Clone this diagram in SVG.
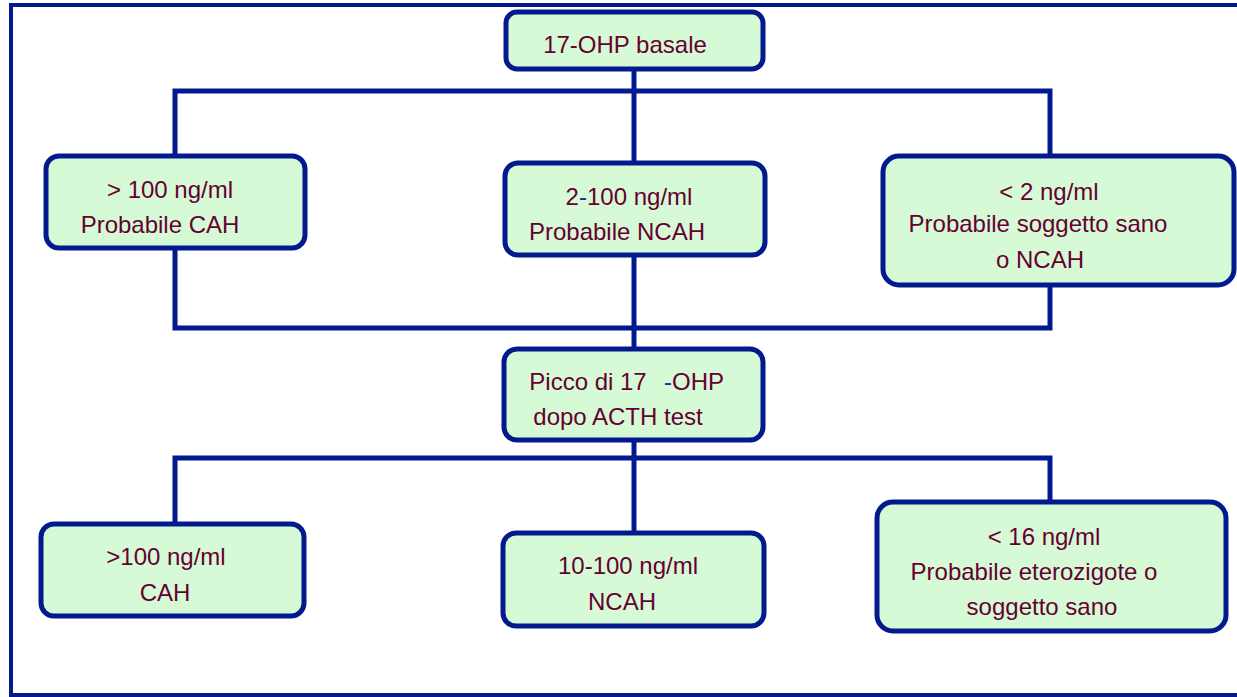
<svg xmlns="http://www.w3.org/2000/svg" width="1237" height="697" viewBox="0 0 1237 697">
<style>
.frame{fill:none;stroke:#021A8E;stroke-width:4}
.box{fill:#D5FAD5;stroke:#021A8E;stroke-width:5}
.ln{fill:none;stroke:#021A8E;stroke-width:5;stroke-linejoin:miter}
.t{font-family:"Liberation Sans",Arial,sans-serif;font-size:24px;fill:#660033;text-anchor:middle}
.b{fill:#1A2A9A}
</style>
<rect x="0" y="0" width="1237" height="697" fill="#FFFFFF"/>
<rect class="frame" x="11" y="5" width="1240" height="690"/>
<g id="connectors">
<path class="ln" d="M634 69V91M175 156V91H1050V156M634 91V163"/>
<path class="ln" d="M175 248V328H1050V285M634 255V349"/>
<path class="ln" d="M634 440V458M175 524V458H1050V502M634 458V533"/>
</g>
<g id="n1">
<rect class="box" x="506" y="12" width="257" height="57" rx="11"/>
<text class="t" x="625" y="53">17-OHP basale</text>
</g>
<g id="n2">
<rect class="box" x="46" y="156" width="259" height="92" rx="13"/>
<text class="t" x="170" y="198">&gt; 100 ng/ml</text>
<text class="t" x="160" y="233">Probabile CAH</text>
</g>
<g id="n3">
<rect class="box" x="505" y="163" width="260" height="92" rx="13"/>
<text class="t" x="629" y="205">2<tspan class="b">-</tspan>100 ng/ml</text>
<text class="t" x="617" y="240">Probabile NCAH</text>
</g>
<g id="n4">
<rect class="box" x="883" y="156" width="351" height="129" rx="16"/>
<text class="t" x="1049" y="200">&lt; 2 ng/ml</text>
<text class="t" x="1038" y="232">Probabile soggetto sano</text>
<text class="t" x="1040" y="268">o NCAH</text>
</g>
<g id="n5">
<rect class="box" x="504" y="349" width="259" height="91" rx="13"/>
<text class="t" x="588" y="390">Picco di 17</text>
<text class="t" x="694" y="390"><tspan class="b">-</tspan>OHP</text>
<text class="t" x="618" y="425">dopo ACTH test</text>
</g>
<g id="n6">
<rect class="box" x="41" y="524" width="263" height="92" rx="13"/>
<text class="t" x="166" y="565">&gt;100 ng/ml</text>
<text class="t" x="165" y="601">CAH</text>
</g>
<g id="n7">
<rect class="box" x="503" y="533" width="261" height="93" rx="13"/>
<text class="t" x="628" y="574">10-100 ng/ml</text>
<text class="t" x="622" y="610">NCAH</text>
</g>
<g id="n8">
<rect class="box" x="877" y="502" width="349" height="129" rx="16"/>
<text class="t" x="1044" y="545">&lt; 16 ng/ml</text>
<text class="t" x="1034" y="580">Probabile eterozigote o</text>
<text class="t" x="1042" y="615">soggetto sano</text>
</g>
</svg>
